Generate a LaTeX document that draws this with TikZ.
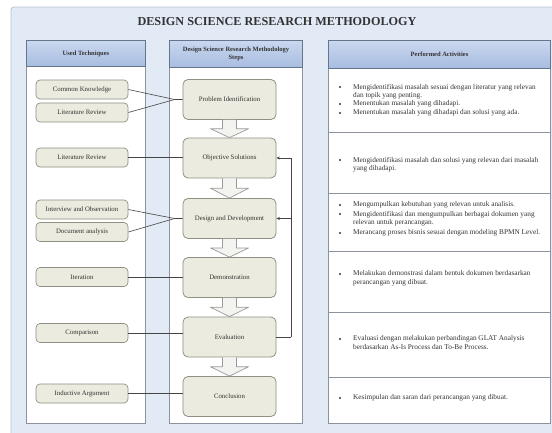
\documentclass[tikz,border=0pt]{standalone}
\usepackage{fontspec}
\setmainfont{Liberation Serif}
\usetikzlibrary{arrows.meta,calc}
\definecolor{panelbg}{HTML}{E2EAF6}
\definecolor{panelline}{HTML}{B6C0CF}
\definecolor{colline}{HTML}{8C939E}
\definecolor{headtop}{HTML}{CAD8EF}
\definecolor{headbot}{HTML}{A7BCE0}
\definecolor{headline}{HTML}{66758E}
\definecolor{boxfill}{HTML}{EBEBDF}
\definecolor{boxline}{HTML}{909082}
\definecolor{arrfill}{HTML}{F3F3EF}
\definecolor{arrline}{HTML}{9A9A9A}
\definecolor{conline}{HTML}{454545}
\definecolor{txt}{HTML}{333333}
\begin{document}
\begin{tikzpicture}[x=1pt,y=-1pt,
  colbody/.style={fill=white,draw=colline,line width=0.8pt},
  header/.style={anchor=north west,draw=headline,line width=1pt,top color=headtop,bottom color=headbot,
    font=\bfseries\fontsize{6.5}{7.5}\selectfont,text=txt,align=center,inner sep=1pt},
  tech/.style={draw=boxline,fill=boxfill,rounded corners=4pt,line width=0.7pt,
    minimum width=92pt,minimum height=19pt,font=\fontsize{6.8}{8}\selectfont,text=txt,inner sep=1pt},
  stepbox/.style={draw=boxline,fill=boxfill,rounded corners=5pt,line width=0.8pt,
    minimum width=93pt,minimum height=40pt,font=\fontsize{6.8}{8}\selectfont,text=txt},
  blockarrow/.style={draw=arrline,fill=arrfill,line width=0.7pt,line join=round},
  con/.style={draw=conline,line width=0.6pt},
  fb/.style={draw=conline,line width=0.6pt,-{Stealth[length=3.5pt,width=3pt]}},
  sep/.style={draw=colline,line width=0.7pt},
  act/.style={anchor=north west,inner sep=0pt,align=left,font=\fontsize{7.3}{8.7}\selectfont,text=txt},
  bul/.style={circle,fill=txt,inner sep=0pt,minimum size=2.4pt}
]
\useasboundingbox (0,0) rectangle (552,432);
\clip (0,0) rectangle (552,432);
\fill[white] (0,0) rectangle (552,432);
\draw[fill=panelbg,draw=panelline,line width=0.8pt,rounded corners=3pt] (11,7) rectangle (580,445);

\node[font=\bfseries\fontsize{12.2}{13}\selectfont,text=txt] (title) at (277,22) {DESIGN SCIENCE RESEARCH METHODOLOGY};

% columns
\draw[colbody] (26,40) rectangle (145,423);
\draw[colbody] (169,40) rectangle (302,423);
\draw[colbody] (328,40) rectangle (550,423);
\node[header,minimum width=119pt,minimum height=26pt] (h1) at (26,40) {Used Techniques};
\node[header,minimum width=133pt,minimum height=27pt] (h2) at (169,40) {Design Science Research Methodology\\Steps};
\node[header,minimum width=222pt,minimum height=28pt] (h3) at (328,40) {Performed Activities};

% separators in right column
\foreach \yy in {132,193,251,312,377} \draw[sep] (328,\yy) -- (550,\yy);

% technique boxes
\node[tech] (ck) at (82,89.5) {Common Knowledge};
\node[tech] (lr1) at (82,112.5) {Literature Review};
\node[tech] (lr2) at (82,157.5) {Literature Review};
\node[tech] (io) at (82,209.5) {Interview and Observation};
\node[tech] (da) at (82,232) {Document analysis};
\node[tech] (it) at (82,277) {Iteration};
\node[tech] (cp) at (82,333) {Comparison};
\node[tech] (ia) at (82,393.5) {Inductive Argument};

% step boxes
\node[stepbox] (pi) at (229.5,99.5) {Problem Identification};
\node[stepbox] (os) at (229.5,158) {Objective Solutions};
\node[stepbox] (dd) at (229.5,218.5) {Design and Development};
\node[stepbox] (de) at (229.5,277.5) {Demonstration};
\node[stepbox] (ev) at (229.5,337) {Evaluation};
\node[stepbox] (co) at (229.5,396.5) {Conclusion};

% block arrows between steps
\foreach \a/\b in {pi/os,os/dd,dd/de,de/ev,ev/co}{
  \draw[blockarrow]
    ([xshift=-7pt]\a.south) --
    ([xshift=-7pt]$(\a.south)!0.5!(\b.north)$) --
    ([xshift=-19pt]$(\a.south)!0.5!(\b.north)$) --
    (\b.north) --
    ([xshift=19pt]$(\a.south)!0.5!(\b.north)$) --
    ([xshift=7pt]$(\a.south)!0.5!(\b.north)$) --
    ([xshift=7pt]\a.south);
}

% connectors technique -> step
\coordinate (j1) at ([xshift=-8pt]pi.west);
\draw[con] (ck.east) -- (j1) -- (pi.west);
\draw[con] (lr1.east) -- (j1);
\draw[con] (lr2.east) -- (lr2.east -| os.west);
\coordinate (j2) at ([xshift=-8pt]dd.west);
\draw[con] (io.east) -- (j2) -- (dd.west);
\draw[con] (da.east) -- (j2);
\draw[con] (it.east) -- (it.east -| de.west);
\draw[con] (cp.east) -- (cp.east -| ev.west);
\draw[con] (ia.east) -- (ia.east -| co.west);

% feedback from evaluation
\coordinate (fbx) at ([xshift=15pt]ev.east);
\draw[con] (ev.east) -- (fbx);
\draw[fb] (fbx) |- (os.east);
\draw[fb] (fbx) |- (dd.east);

% activities
\node[bul] (b1a) at (340,87) {};
\node[act] (t1a) at (353,83.7) {Mengidentifikasi masalah sesuai dengan literatur yang relevan\\dan topik yang penting.};
\node[bul] (b1b) at (340,104) {};
\node[act] (t1b) at (353,100.7) {Menentukan masalah yang dihadapi.};
\node[bul] (b1c) at (340,113) {};
\node[act] (t1c) at (353,109.7) {Menentukan masalah yang dihadapi dan solusi yang ada.};

\node[bul] (b2a) at (340,160) {};
\node[act] (t2a) at (353,156.7) {Mengidentifikasi masalah dan solusi yang relevan dari masalah\\yang dihadapi.};

\node[bul] (b3a) at (340,205) {};
\node[act] (t3a) at (353,201.7) {Mengumpulkan kebutuhan yang relevan untuk analisis.};
\node[bul] (b3b) at (340,214) {};
\node[act] (t3b) at (353,210.7) {Mengidentifikasi dan mengumpulkan berbagai dokumen yang\\relevan untuk perancangan.};
\node[bul] (b3c) at (340,233) {};
\node[act] (t3c) at (353,229.7) {Merancang proses bisnis sesuai dengan modeling BPMN Level.};

\node[bul] (b4a) at (340,274) {};
\node[act] (t4a) at (353,270.7) {Melakukan demonstrasi dalam bentuk dokumen berdasarkan\\perancangan yang dibuat.};

\node[bul] (b5a) at (340,339) {};
\node[act] (t5a) at (353,335.7) {Evaluasi dengan melakukan perbandingan GLAT Analysis\\berdasarkan As-Is Process dan To-Be Process.};

\node[bul] (b6a) at (340,398) {};
\node[act] (t6a) at (353,394.7) {Kesimpulan dan saran dari perancangan yang dibuat.};
\end{tikzpicture}
\end{document}
